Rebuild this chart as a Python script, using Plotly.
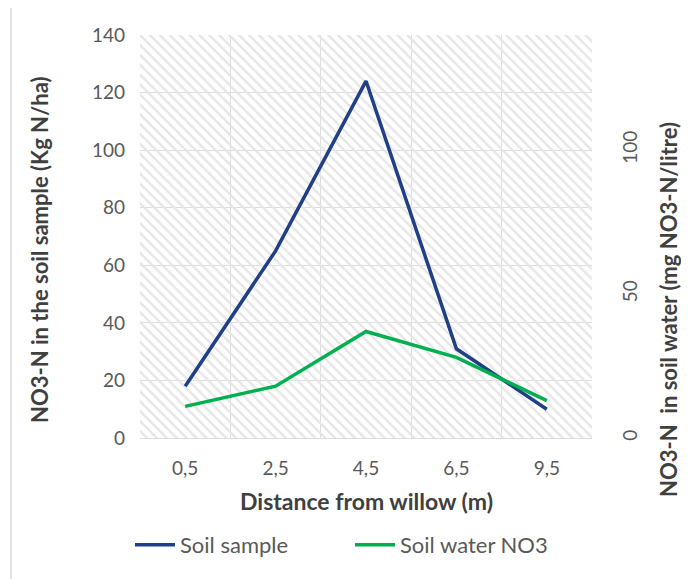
import plotly.graph_objects as go

categories = ["0,5", "2,5", "4,5", "6,5", "9,5"]
soil_sample = [18, 65, 124, 31, 10]
soil_water_no3 = [11, 18, 37, 28, 13]
left_ticks = [0, 20, 40, 60, 80, 100, 120, 140]
right_ticks = [0, 50, 100]

# page is shown with an 8px body margin
OFF = 8
W, H = 689, 579
PL, PR, PT, PB = 140, 592, 35, 438   # plot area in page pixels
pw, ph = PR - PL, PB - PT

def px_x(px):
    return (px - PL) / pw

def px_y(py):
    return (PB - py) / ph

FONT = "Century Gothic, Lato, sans-serif"
TICK = "#595959"
TITLE = "#404040"
GRID = "#dedede"

xs = list(range(len(categories)))

fig = go.Figure()
# hatched plot background
fig.add_trace(go.Bar(
    x=xs, y=[max(left_ticks)] * len(xs), width=1,
    marker=dict(color="#e6e6e6", line=dict(width=0),
                pattern=dict(shape="\\", size=7, solidity=0.33, fillmode="replace")),
    hoverinfo="skip", showlegend=False,
))
fig.add_trace(go.Scatter(
    x=xs, y=soil_sample, mode="lines", name="Soil sample",
    line=dict(color="#203f86", width=3.5),
))
fig.add_trace(go.Scatter(
    x=xs, y=soil_water_no3, mode="lines", name="Soil water NO3",
    line=dict(color="#00b050", width=3.5), yaxis="y2",
))

fig.update_layout(
    width=W - OFF, height=H - OFF,
    margin=dict(l=PL - OFF, r=W - PR, t=PT - OFF, b=H - PB, autoexpand=False),
    paper_bgcolor="white", plot_bgcolor="white",
    font=dict(family=FONT, color=TICK),
    bargap=0,
    xaxis=dict(
        range=[-0.5, len(xs) - 0.5],
        tickmode="array", tickvals=xs, ticktext=categories,
        showgrid=False, zeroline=False,
        showline=True, linecolor=GRID, linewidth=1,
        ticks="", ticklabelstandoff=13,
        tickfont=dict(size=19, color=TICK),
        minor=dict(tickmode="array", tickvals=[i - 0.5 for i in range(len(xs) + 1)],
                   showgrid=True, gridcolor=GRID, gridwidth=1, ticks=""),
    ),
    yaxis=dict(
        range=[0, 140], tickmode="array", tickvals=left_ticks,
        showgrid=True, gridcolor=GRID, gridwidth=1, zeroline=False,
        showline=False, ticks="", ticklabelstandoff=14,
        tickfont=dict(size=19, color=TICK),
    ),
    yaxis2=dict(
        range=[0, 140], overlaying="y", side="right",
        tickmode="array", tickvals=right_ticks, tickangle=-90,
        showgrid=False, zeroline=False, showline=False, ticks="",
        ticklabelstandoff=25,
        tickfont=dict(size=19, color=TICK),
    ),
    legend=dict(
        orientation="h", x=px_x(350), y=px_y(545), xanchor="center", yanchor="middle",
        font=dict(size=22, color=TICK), traceorder="normal",
        itemwidth=40, entrywidth=165, entrywidthmode="pixels",
        bgcolor="rgba(0,0,0,0)",
    ),
    annotations=[
        dict(text="<b>NO3-N in the soil sample (Kg N/ha)</b>", textangle=-90,
             x=px_x(39), y=px_y(250), xref="paper", yref="paper",
             xanchor="center", yanchor="middle",
             showarrow=False, font=dict(size=22, color=TITLE)),
        dict(text="<b>NO3-N  in soil water (mg NO3-N/litre)</b>", textangle=-90,
             x=px_x(668), y=px_y(310), xref="paper", yref="paper",
             xanchor="center", yanchor="middle",
             showarrow=False, font=dict(size=22, color=TITLE)),
        dict(text="<b>Distance from willow (m)</b>",
             x=px_x(366), y=px_y(501), xref="paper", yref="paper",
             xanchor="center", yanchor="middle",
             showarrow=False, font=dict(size=23, color=TITLE)),
    ],
    shapes=[
        dict(type="rect", xref="paper", yref="paper",
             x0=px_x(11), x1=px_x(720), y0=px_y(620), y1=px_y(3),
             line=dict(color="#d9d9d9", width=1.5), fillcolor="rgba(0,0,0,0)",
             layer="below"),
    ],
)

fig.write_html("out.html")
